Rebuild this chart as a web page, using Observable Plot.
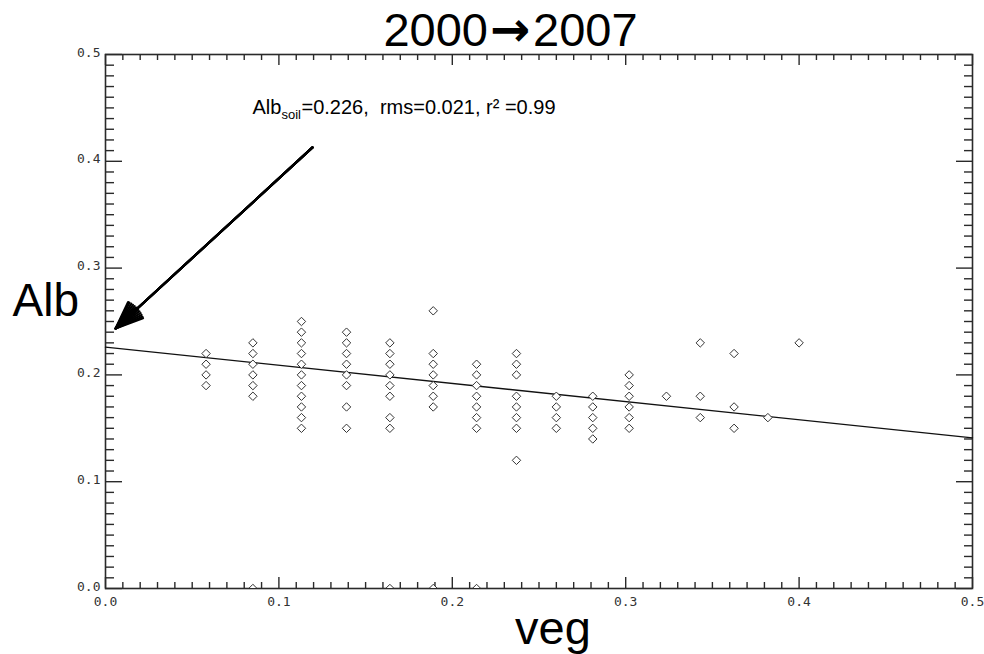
<!DOCTYPE html>
<html>
<head>
<meta charset="utf-8">
<script src="https://cdn.jsdelivr.net/npm/d3@7"></script>
<script src="https://cdn.jsdelivr.net/npm/@observablehq/plot@0.6"></script>
<style>
  html, body { margin: 0; padding: 0; background: #fff; }
  svg text { white-space: pre; }
</style>
</head>
<body>
<div id="chart"></div>
<script>
// ---- data ----
const vegLevels = [0.058, 0.085, 0.113, 0.139, 0.164, 0.189, 0.214, 0.237, 0.260, 0.281, 0.302, 0.3235, 0.343, 0.3625, 0.382, 0.400];
const albColumns = [
  [0.22, 0.21, 0.20, 0.19],
  [0.23, 0.22, 0.21, 0.20, 0.19, 0.18, 0.00],
  [0.25, 0.24, 0.23, 0.22, 0.21, 0.20, 0.19, 0.18, 0.17, 0.16, 0.15],
  [0.24, 0.23, 0.22, 0.21, 0.20, 0.19, 0.17, 0.15],
  [0.23, 0.22, 0.21, 0.20, 0.19, 0.18, 0.16, 0.15, 0.00],
  [0.26, 0.22, 0.21, 0.20, 0.19, 0.18, 0.17, 0.00],
  [0.21, 0.20, 0.19, 0.18, 0.17, 0.16, 0.15, 0.00],
  [0.22, 0.21, 0.20, 0.18, 0.17, 0.16, 0.15, 0.12],
  [0.18, 0.17, 0.16, 0.15],
  [0.18, 0.17, 0.16, 0.15, 0.14],
  [0.20, 0.19, 0.18, 0.17, 0.16, 0.15],
  [0.18],
  [0.23, 0.18, 0.16],
  [0.22, 0.17, 0.15],
  [0.16],
  [0.23]
];
const fitVeg = [0.0, 0.5];
const fitAlb = [0.226, 0.141];
const arrowFrom = [0.1194, 0.413];
const arrowTo = [0.0058, 0.2434];
const majorTicks = [0.0, 0.1, 0.2, 0.3, 0.4, 0.5];
const titleParts = ["2000", "\u2192", "2007"];
const xLabel = "veg";
const yLabel = "Alb";
const noteParts = ["Alb", "soil", "=0.226,  rms=0.021, r\u00B2 =0.99"];

// ---- tables ----
const points = vegLevels.flatMap((v, i) => albColumns[i].map(a => ({veg: v, alb: a})));
const fit = fitVeg.map((v, i) => ({veg: v, alb: fitAlb[i]}));
const minorTicks = d3.range(0, 51).map(i => i / 100).filter(t => Math.round(t * 100) % 10 !== 0);
const fmt = d3.format(".1f");

const W = 984, H = 654, ML = 105, MR = 12, MT = 54, MB = 66;
const FH = H - MT - MB, FW = W - ML - MR;
const ink = "#2a2a2a";
const mono = "DejaVu Sans Mono";
const sans = "Liberation Sans";

const headAngles = [6, 14, 22, 30, 38, 44];

const chart = Plot.plot({
  width: W, height: H,
  marginLeft: ML, marginRight: MR, marginTop: MT, marginBottom: MB,
  x: {domain: [0, 0.5], axis: null},
  y: {domain: [0, 0.5], axis: null},
  style: {background: "#fff", fontFamily: sans},
  marks: [
    // inward ticks: bottom & top
    Plot.ruleX(minorTicks, {x: d => d, insetTop: FH - 6, stroke: ink, strokeWidth: 1.4}),
    Plot.ruleX(majorTicks, {x: d => d, insetTop: FH - 11, stroke: ink, strokeWidth: 1.4}),
    Plot.ruleX(minorTicks, {x: d => d, insetBottom: FH - 6, stroke: ink, strokeWidth: 1.4}),
    Plot.ruleX(majorTicks, {x: d => d, insetBottom: FH - 11, stroke: ink, strokeWidth: 1.4}),
    // inward ticks: left & right
    Plot.ruleY(minorTicks, {y: d => d, insetRight: FW - 9, stroke: ink, strokeWidth: 1.4}),
    Plot.ruleY(majorTicks, {y: d => d, insetRight: FW - 17, stroke: ink, strokeWidth: 1.4}),
    Plot.ruleY(minorTicks, {y: d => d, insetLeft: FW - 8, stroke: ink, strokeWidth: 1.4}),
    Plot.ruleY(majorTicks, {y: d => d, insetLeft: FW - 16, stroke: ink, strokeWidth: 1.4}),
    Plot.frame({stroke: ink, strokeWidth: 1.6}),
    // tick labels
    Plot.text(majorTicks, {x: d => d, text: d => fmt(d), frameAnchor: "bottom", dy: 17, fontFamily: mono, fontSize: 13, fill: "#333"}),
    Plot.text(majorTicks, {y: d => d, text: d => fmt(d), frameAnchor: "left", dx: -5, dy: -2, textAnchor: "end", fontFamily: mono, fontSize: 13, fill: "#333"}),
    // regression line
    Plot.line(fit, {x: "veg", y: "alb", stroke: "#111", strokeWidth: 1.3}),
    // data points
    Plot.dot(points, {x: "veg", y: "alb", symbol: "diamond2", r: 3.8, stroke: "#333", strokeWidth: 1, fill: "#fff", clip: true}),
    // arrow (several head angles to fill the head)
    ...headAngles.map(a => Plot.arrow([0], {
      x1: () => arrowFrom[0], y1: () => arrowFrom[1], x2: () => arrowTo[0], y2: () => arrowTo[1],
      headLength: 20, headAngle: a, stroke: "#000", strokeWidth: 2.2
    })),
    // annotation
    Plot.text([noteParts[0]], {text: d => d, frameAnchor: "top-left", dx: 147, dy: 59, lineAnchor: "bottom", textAnchor: "start", fontSize: 20, fill: "#000"}),
    Plot.text([noteParts[1]], {text: d => d, frameAnchor: "top-left", dx: 176, dy: 64, lineAnchor: "bottom", textAnchor: "start", fontSize: 13, fill: "#000"}),
    Plot.text([noteParts[2]], {text: d => d, frameAnchor: "top-left", dx: 196, dy: 59, lineAnchor: "bottom", textAnchor: "start", fontSize: 20, fill: "#000"}),
    // title
    Plot.text([titleParts[0]], {text: d => d, frameAnchor: "top", dx: -51, dy: -9, lineAnchor: "bottom", textAnchor: "end", fontSize: 47, fill: "#000"}),
    Plot.text([titleParts[1]], {text: d => d, frameAnchor: "top", dx: -29, dy: -9, lineAnchor: "bottom", fontSize: 48, fontWeight: "bold", fontFamily: "DejaVu Sans", fill: "#000"}),
    Plot.text([titleParts[2]], {text: d => d, frameAnchor: "top", dx: -6, dy: -9, lineAnchor: "bottom", textAnchor: "start", fontSize: 47, fill: "#000"}),
    // axis titles
    Plot.text([xLabel], {text: d => d, frameAnchor: "bottom", dx: 14, dy: 55, lineAnchor: "bottom", fontSize: 47, fill: "#000"}),
    Plot.text([yLabel], {text: d => d, frameAnchor: "top-left", dx: -93, dy: 261, lineAnchor: "bottom", textAnchor: "start", fontSize: 46, fill: "#000"})
  ]
});
document.getElementById("chart").appendChild(chart);
</script>
</body>
</html>
